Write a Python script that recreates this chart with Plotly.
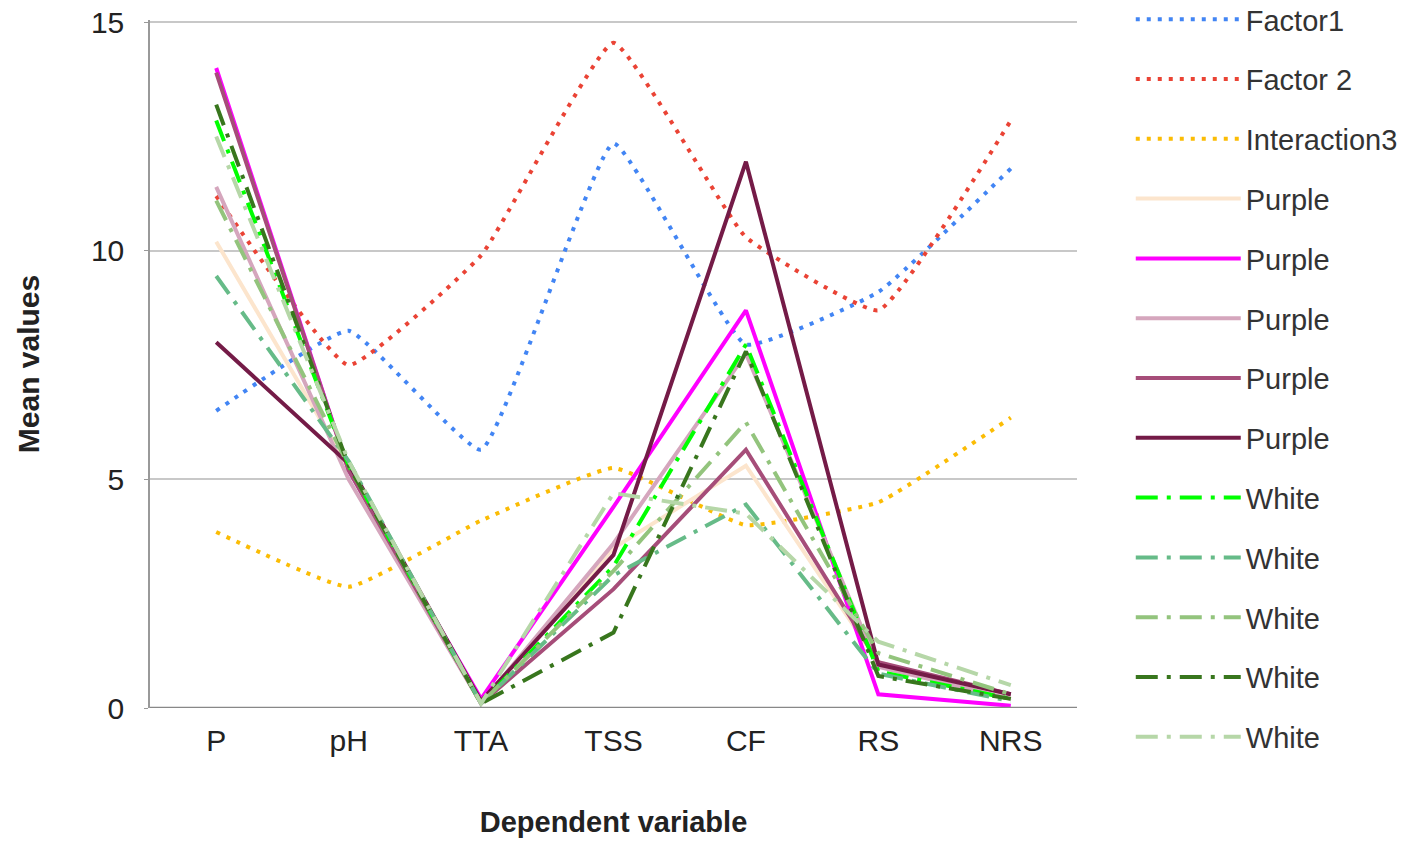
import plotly.graph_objects as go

categories = ["P", "pH", "TTA", "TSS", "CF", "RS", "NRS"]
y_ticks = [0, 5, 10, 15]

factor1 = [6.5, 8.25, 5.65, 12.35, 7.95, 9.1, 11.8]
factor2 = [11.2, 7.5, 9.9, 14.55, 10.3, 8.7, 12.85]
interaction3 = [3.85, 2.65, 4.1, 5.25, 4.0, 4.5, 6.35]

purple1 = [10.2, 5.25, 0.1, 3.5, 5.3, 1.0, 0.2]
purple2 = [14.0, 5.2, 0.2, 4.4, 8.7, 0.3, 0.05]
purple3 = [11.4, 5.0, 0.1, 3.6, 7.75, 0.9, 0.2]
purple4 = [13.9, 5.2, 0.1, 2.6, 5.65, 1.0, 0.3]
purple5 = [8.0, 5.35, 0.15, 3.35, 11.95, 0.95, 0.3]

white1 = [12.85, 5.3, 0.1, 3.1, 7.95, 0.8, 0.2]
white2 = [9.45, 5.4, 0.1, 2.9, 4.45, 0.75, 0.15]
white3 = [11.1, 5.3, 0.1, 3.0, 6.25, 1.2, 0.3]
white4 = [13.2, 5.3, 0.1, 1.65, 7.8, 0.7, 0.2]
white5 = [12.5, 5.4, 0.1, 4.7, 4.25, 1.45, 0.5]

series_names = ["Factor1", "Factor 2", "Interaction3",
                "Purple", "Purple", "Purple", "Purple", "Purple",
                "White", "White", "White", "White", "White"]
series_values = [factor1, factor2, interaction3,
                 purple1, purple2, purple3, purple4, purple5,
                 white1, white2, white3, white4, white5]
series_colors = ["#4285f4", "#ea4335", "#fbbc04",
                 "#fce5cd", "#ff00ff", "#d5a6bd", "#a64d79", "#741b47",
                 "#00ff00", "#66bb88", "#93c47d", "#38761d", "#b6d7a8"]
series_kinds = ["dot"] * 3 + ["solid"] * 5 + ["dashdot"] * 5

fig = go.Figure()
for i, (name, vals, col, kind) in enumerate(zip(series_names, series_values, series_colors, series_kinds)):
    if kind == "dot":
        line = dict(color=col, width=4, dash="4px,7px", shape="spline", smoothing=0.35)
    elif kind == "solid":
        line = dict(color=col, width=4)
    else:
        line = dict(color=col, width=4, dash="22px,9px,4px,9px")
    fig.add_trace(go.Scatter(
        x=categories, y=vals, mode="lines", name=name, line=line,
        legendgroup="g%d" % i,
    ))

fig.update_layout(
    width=1418, height=844,
    margin=dict(l=150, r=341, t=20, b=136, autoexpand=False),
    paper_bgcolor="white", plot_bgcolor="white",
    font=dict(family="Liberation Sans, Arial, sans-serif", size=30, color="#222222"),
    showlegend=True,
    legend=dict(
        x=1.058, xanchor="left", y=1.038, yanchor="top",
        font=dict(size=29, color="#333333"),
        tracegroupgap=19.1, itemwidth=105, maxheight=844,
        bgcolor="rgba(0,0,0,0)",
    ),
    xaxis=dict(
        type="category", range=[-0.5, 6.5],
        showgrid=False, showline=False, zeroline=False,
        ticks="", ticklabelstandoff=12,
        title=dict(text="<b>Dependent variable</b>", font=dict(size=29, color="#222222"), standoff=55),
    ),
    yaxis=dict(
        range=[0, 15.05], tickmode="array", tickvals=y_ticks,
        showgrid=True, gridcolor="#c8c8c8", gridwidth=1.5,
        showline=True, linecolor="#999999", linewidth=1.5,
        zeroline=False,
        ticks="outside", ticklen=4, tickcolor="#999999",
        ticklabelstandoff=14, ticklabeloverflow="allow",
        title=dict(text="<b>Mean values</b>", font=dict(size=30, color="#222222"), standoff=42),
    ),
)

fig.add_shape(type="line", xref="paper", yref="y", x0=0, x1=1, y0=0, y1=0,
              line=dict(color="#888888", width=2.5), layer="above")

fig.write_html("out.html", config={"displayModeBar": False},
               post_script="document.body.style.margin='0';")
